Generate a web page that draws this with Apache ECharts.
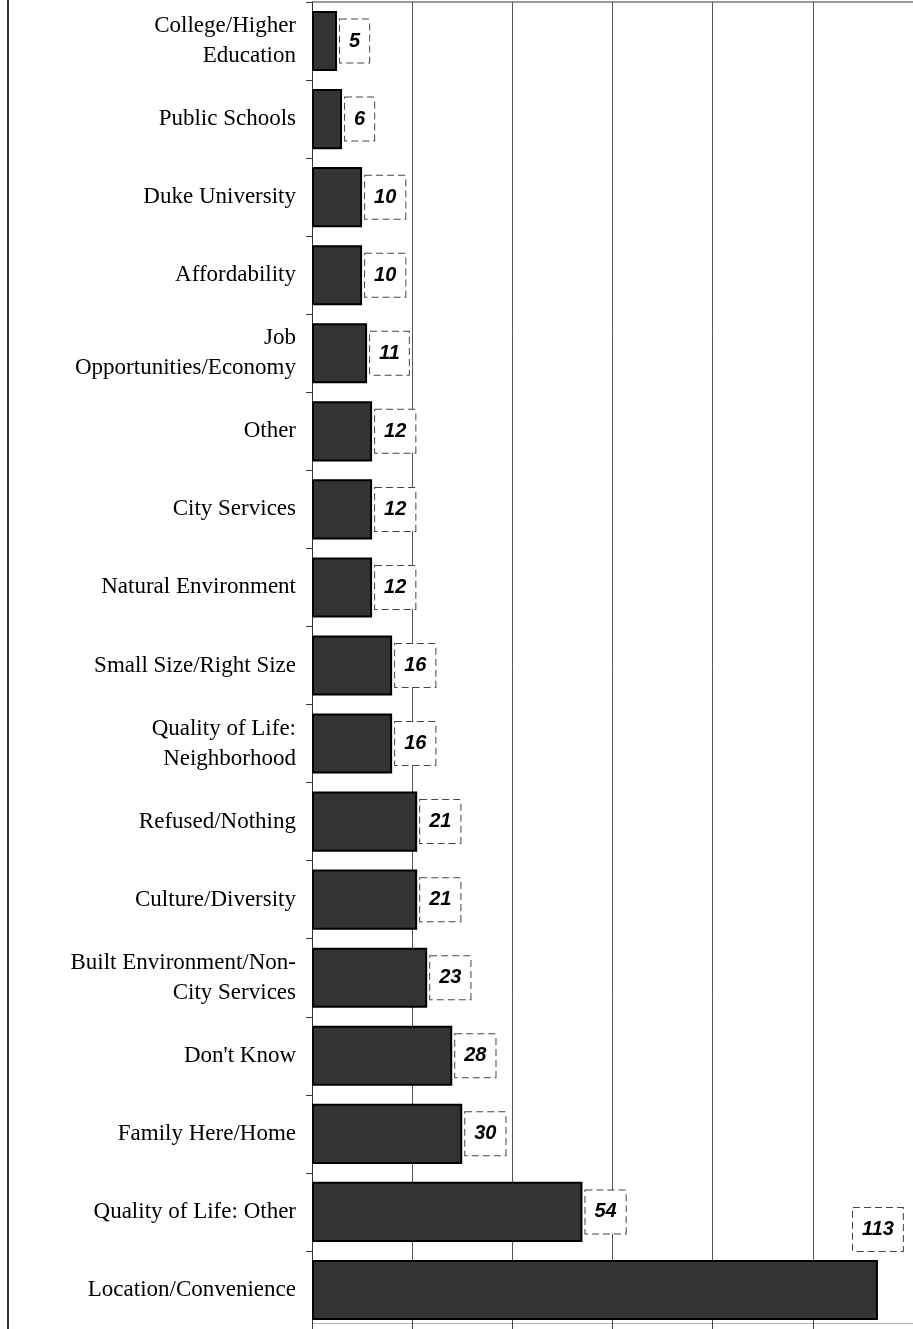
<!DOCTYPE html>
<html>
<head>
<meta charset="utf-8">
<style>
  html, body { margin: 0; padding: 0; background: #fff; }
  #chart { width: 913px; height: 1329px; }
</style>
<script src="https://cdn.jsdelivr.net/npm/echarts@6/dist/echarts.min.js"></script>
</head>
<body>
<div id="chart"></div>
<script>
// Reasons given, listed top to bottom
const categories = [
  'College/Higher\nEducation',
  'Public Schools',
  'Duke University',
  'Affordability',
  'Job\nOpportunities/Economy',
  'Other',
  'City Services',
  'Natural Environment',
  'Small Size/Right Size',
  'Quality of Life:\nNeighborhood',
  'Refused/Nothing',
  'Culture/Diversity',
  'Built Environment/Non-\nCity Services',
  "Don't Know",
  'Family Here/Home',
  'Quality of Life: Other',
  'Location/Convenience'
];

// Number of responses per reason
const counts = [5, 6, 10, 10, 11, 12, 12, 12, 16, 16, 21, 21, 23, 28, 30, 54, 113];

// Value axis range
const axisMin = 0;
const axisMax = 120;
const axisStep = 20;

const chart = echarts.init(document.getElementById('chart'), null, { renderer: 'canvas' });

const boxLabel = {
  show: true,
  position: 'right',
  distance: 3,
  formatter: '{c}',
  fontFamily: 'Liberation Sans, Arial, sans-serif',
  fontStyle: 'italic',
  fontWeight: 'bold',
  fontSize: 20,
  lineHeight: 20,
  color: '#000',
  backgroundColor: '#fff',
  borderColor: '#444',
  borderWidth: 1,
  borderType: [7, 4],
  padding: [12, 9, 11, 9]
};

// The longest bar carries its label above its end
const barData = counts.map((v, i) => {
  if (i === counts.length - 1) {
    return {
      value: v,
      label: {
        position: ['100%', -9],
        align: 'center',
        verticalAlign: 'bottom'
      }
    };
  }
  return v;
});

chart.setOption({
  animation: false,
  backgroundColor: '#fff',
  grid: { left: 312, top: 2, width: 603, height: 1327 },
  xAxis: {
    type: 'value',
    min: axisMin,
    max: axisMax,
    interval: axisStep,
    position: 'bottom',
    offset: -6,
    axisLine: { show: true, lineStyle: { color: '#b0b0b0', width: 1 } },
    axisTick: { show: true, inside: false, length: 6, lineStyle: { color: '#444', width: 1 } },
    axisLabel: { show: false },
    splitLine: { show: true, lineStyle: { color: '#555', width: 1 } }
  },
  yAxis: {
    type: 'category',
    data: categories,
    inverse: true,
    axisLine: { show: true, lineStyle: { color: '#333', width: 1 } },
    axisTick: { show: true, length: 6, lineStyle: { color: '#333', width: 1 } },
    axisLabel: {
      margin: 16,
      fontFamily: 'Liberation Serif, Times New Roman, serif',
      fontSize: 23,
      lineHeight: 30,
      padding: [6, 0, 0, 0],
      color: '#000',
      align: 'right'
    }
  },
  series: [{
    type: 'bar',
    data: barData,
    barCategoryGap: '23%',
    itemStyle: { color: '#333333', borderColor: '#000', borderWidth: 2 },
    label: boxLabel
  }],
  graphic: [
    {
      type: 'line',
      shape: { x1: 8, y1: 0, x2: 8, y2: 1329 },
      style: { stroke: '#333', lineWidth: 2 }
    },
    {
      type: 'line',
      shape: { x1: 312, y1: 2, x2: 913, y2: 2 },
      style: { stroke: '#999', lineWidth: 2 }
    }
  ]
});
</script>
</body>
</html>
